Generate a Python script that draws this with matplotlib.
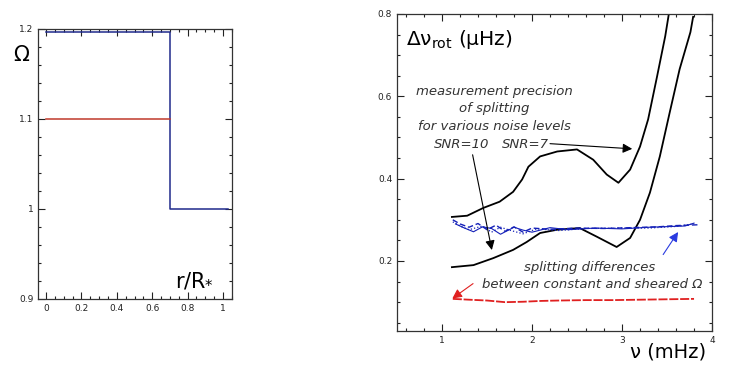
import matplotlib
matplotlib.use('AGG')
import matplotlib.pyplot as plt
from matplotlib.ticker import MultipleLocator

# left panel: rotation profiles
r_sheared = [0.0, 0.7, 0.7, 1.03]
om_sheared = [1.197, 1.197, 1.0, 1.0]
r_const = [0.0, 0.7]
om_const = [1.1, 1.1]

# right panel: measurement precision curves (nu in mHz, dnu in muHz)
nu_snr7 = [1.11, 1.28, 1.46, 1.64, 1.79, 1.89, 1.96, 2.09, 2.28, 2.5, 2.68,
           2.83, 2.96, 3.09, 3.2, 3.29, 3.39, 3.48, 3.52]
dnu_snr7 = [0.307, 0.31, 0.329, 0.344, 0.368, 0.398, 0.429, 0.454, 0.466, 0.471,
            0.446, 0.41, 0.39, 0.422, 0.478, 0.544, 0.649, 0.746, 0.80]
nu_snr10 = [1.11, 1.35, 1.57, 1.79, 1.94, 2.09, 2.28, 2.53, 2.72, 2.94, 3.09,
            3.2, 3.31, 3.42, 3.53, 3.64, 3.76, 3.79]
dnu_snr10 = [0.185, 0.19, 0.207, 0.227, 0.246, 0.268, 0.276, 0.28, 0.259, 0.234,
             0.256, 0.30, 0.366, 0.454, 0.561, 0.666, 0.756, 0.793]

# splitting differences (blue, several realisations)
nu_a = [1.12, 1.2, 1.3, 1.4, 1.5, 1.6, 1.7, 1.8, 1.9, 2.0, 2.2, 2.5, 2.8, 3.1,
        3.4, 3.6, 3.85]
dnu_a = [0.30, 0.29, 0.282, 0.291, 0.276, 0.287, 0.272, 0.283, 0.27, 0.28, 0.277,
         0.28, 0.279, 0.281, 0.283, 0.286, 0.288]
nu_b = [1.12, 1.22, 1.3, 1.45, 1.55, 1.65, 1.75, 1.9, 2.05, 2.3, 2.6, 3.0, 3.3,
        3.6, 3.8]
dnu_b = [0.295, 0.283, 0.276, 0.285, 0.27, 0.282, 0.275, 0.266, 0.278, 0.274,
         0.279, 0.28, 0.28, 0.284, 0.29]
nu_c = [1.15, 1.25, 1.35, 1.45, 1.55, 1.65, 1.8, 1.9, 2.0, 2.2, 2.4, 2.7, 3.0,
        3.3, 3.7, 3.8]
dnu_c = [0.29, 0.28, 0.271, 0.283, 0.279, 0.265, 0.282, 0.275, 0.27, 0.281, 0.276,
         0.28, 0.278, 0.282, 0.285, 0.292]

# red curve
nu_red = [1.12, 1.3, 1.5, 1.7, 1.9, 2.1, 2.3, 2.6, 2.9, 3.2, 3.5, 3.8]
dnu_red = [0.108, 0.106, 0.104, 0.1, 0.101, 0.103, 0.104, 0.105, 0.105, 0.106,
           0.107, 0.108]

fig = plt.figure(figsize=(7.33, 3.65), dpi=100)

def style(ax):
    ax.tick_params(which='both', direction='in', top=True, right=True,
                   labelsize=6.5, colors='#222222', width=0.8)
    ax.tick_params(which='major', length=5)
    ax.tick_params(which='minor', length=2.5)
    for s in ax.spines.values():
        s.set_linewidth(0.9)
        s.set_color('#333333')

ax1 = fig.add_axes([0.052, 0.181, 0.2645, 0.7397])
ax1.plot(r_sheared, om_sheared, color='#1f2a8c', lw=1.1)
ax1.plot(r_const, om_const, color='#c0392b', lw=1.1)
ax1.set_xlim(-0.045, 1.051)
ax1.set_ylim(0.9, 1.2)
ax1.set_xticks([0, 0.2, 0.4, 0.6, 0.8, 1.0])
ax1.set_xticklabels(['0', '0.2', '0.4', '0.6', '0.8', '1'])
ax1.set_yticks([0.9, 1.0, 1.1, 1.2])
ax1.set_yticklabels(['0.9', '1', '1.1', '1.2'])
ax1.xaxis.set_minor_locator(MultipleLocator(0.05))
ax1.yaxis.set_minor_locator(MultipleLocator(0.02))
style(ax1)
fig.text(21 / 733, 1 - 55 / 365, 'Ω', fontsize=15, ha='center', va='center')
ax1.text(0.84, 0.921, r'r/R$_{*}$', fontsize=15, ha='center', va='center')

ax2 = fig.add_axes([0.5416, 0.0932, 0.4298, 0.8685])
ax2.plot(nu_snr7, dnu_snr7, color='black', lw=1.3)
ax2.plot(nu_snr10, dnu_snr10, color='black', lw=1.3)
ax2.plot(nu_a, dnu_a, color='#1420b8', lw=1.0, ls=(0, (4, 2)))
ax2.plot(nu_b, dnu_b, color='#1420b8', lw=0.9, ls=':')
ax2.plot(nu_c, dnu_c, color='#1420b8', lw=0.8)
ax2.plot(nu_red, dnu_red, color='#e02020', lw=1.3, ls=(0, (5, 1)))
ax2.set_xlim(0.5, 4.0)
ax2.set_ylim(0.03, 0.8)
ax2.set_xticks([1, 2, 3, 4])
ax2.set_yticks([0.2, 0.4, 0.6, 0.8])
ax2.xaxis.set_minor_locator(MultipleLocator(0.2))
ax2.yaxis.set_minor_locator(MultipleLocator(0.05))
style(ax2)

ax2.text(0.6, 0.737, r'$\mathregular{\Delta\nu_{rot}}$ (μHz)', fontsize=14.5,
         ha='left', va='center')
fig.text(630 / 733, 1 - 352 / 365, 'ν (mHz)', fontsize=14, ha='left', va='center')

tcol = '#333333'
tkw = dict(fontsize=9.5, style='italic', color=tcol, ha='center', va='center')
ax2.text(1.58, 0.612, 'measurement precision', **tkw)
ax2.text(1.58, 0.571, 'of splitting', **tkw)
ax2.text(1.58, 0.527, 'for various noise levels', **tkw)
ax2.text(1.22, 0.483, 'SNR=10', **tkw)
ax2.text(1.93, 0.483, 'SNR=7', **tkw)
ax2.text(2.64, 0.185, 'splitting differences', **tkw)
ax2.text(2.67, 0.144, 'between constant and sheared Ω', **tkw)

ax2.annotate('', xy=(3.144, 0.472), xytext=(2.2, 0.485),
             arrowprops=dict(arrowstyle='-|>', color='black', lw=0.8,
                             mutation_scale=14, shrinkA=0))
ax2.annotate('', xy=(1.56, 0.22), xytext=(1.34, 0.458),
             arrowprops=dict(arrowstyle='-|>', color='black', lw=0.8,
                             mutation_scale=14, shrinkA=0))
ax2.annotate('', xy=(3.64, 0.276), xytext=(3.44, 0.21),
             arrowprops=dict(arrowstyle='-|>', color='#2a3be0', lw=0.8,
                             mutation_scale=14))
ax2.annotate('', xy=(1.09, 0.105), xytext=(1.37, 0.149),
             arrowprops=dict(arrowstyle='-|>', color='#e02020', lw=0.8,
                             mutation_scale=14))

fig.savefig('out.png', dpi=100)
